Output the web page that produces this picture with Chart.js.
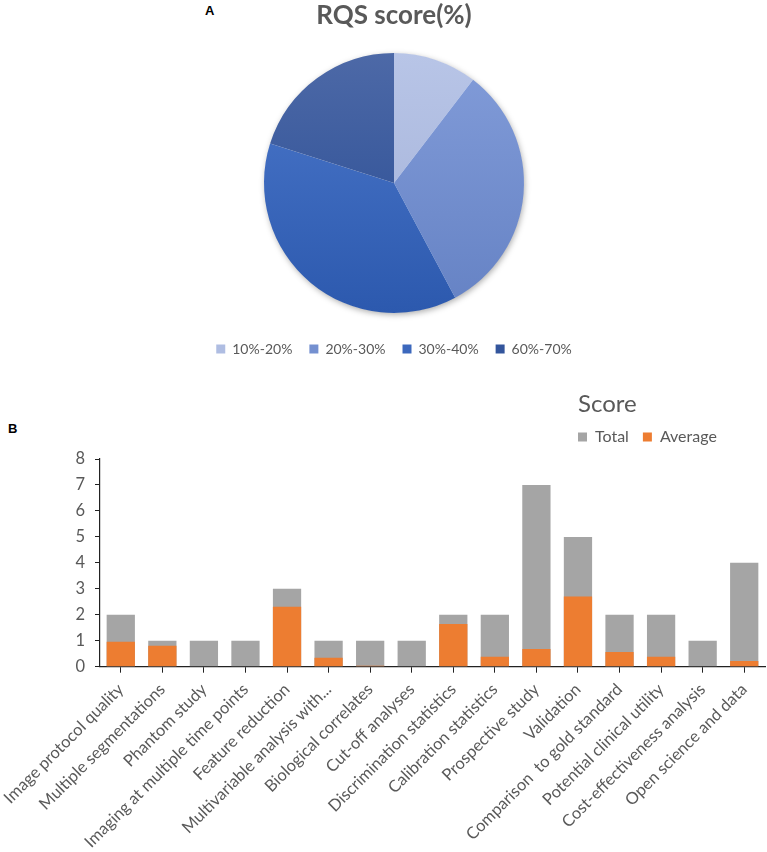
<!DOCTYPE html>
<html>
<head>
<meta charset="utf-8">
<script src="https://cdn.jsdelivr.net/npm/chart.js@4"></script>
<style>
  html, body { margin: 0; padding: 0; background: #fff; }
  body { width: 767px; height: 852px; position: relative; overflow: hidden; }
  .panel { position: absolute; font-family: "Liberation Sans", Arial, sans-serif; font-weight: bold; font-size: 13px; line-height: 13px; color: #000; }
  #wrapA { position: absolute; left: 0; top: 0; width: 767px; height: 366px; }
  #wrapB { position: absolute; left: 0; top: 388px; width: 767px; height: 464px; }
</style>
</head>
<body>
<div class="panel" style="left:205px; top:4px;">A</div>
<div class="panel" style="left:8px; top:422px;">B</div>
<div id="wrapA"><canvas id="pie" width="767" height="366"></canvas></div>
<div id="wrapB"><canvas id="bar" width="767" height="464"></canvas></div>
<script>
// ---- data ----
const pieTitle = 'RQS score(%)';
const pieLabels = ['10%-20%', '20%-30%', '30%-40%', '60%-70%'];
const pieValues = [10.4, 31.8, 37.7, 20.1];
const pieColors = ['#afbde2', '#7490d0', '#3c68bd', '#33559c'];
const pieTopColors = ['#b8c5e7', '#829cd9', '#4c78cb', '#4d69a7'];
const pieBottomColors = ['#a2b0d7', '#6582c4', '#2c59ae', '#264a92'];

const categories = [
  'Image protocol quality',
  'Multiple segmentations',
  'Phantom study',
  'Imaging at multiple time points',
  'Feature reduction',
  'Multivariable analysis with...',
  'Biological correlates',
  'Cut-off analyses',
  'Discrimination statistics',
  'Calibration statistics',
  'Prospective study',
  'Validation',
  'Comparison  to gold standard',
  'Potential clinical utility',
  'Cost-effectiveness analysis',
  'Open science and data'
];
const totalScores   = [2, 1, 1, 1, 3, 1, 1, 1, 2, 2, 7, 5, 2, 2, 1, 4];
const averageScores = [0.96, 0.81, 0, 0, 2.31, 0.34, 0.04, 0, 1.64, 0.38, 0.68, 2.70, 0.57, 0.38, 0, 0.22];
const yMin = 0, yMax = 8, yStep = 1;

Chart.defaults.font.family = 'Lato, "Open Sans", sans-serif';
Chart.defaults.color = '#595959';
Chart.defaults.animation = false;

// ---- pie ----
const pieShadow = {
  id: 'pieShadow',
  beforeDatasetsDraw(chart) {
    const arc = chart.getDatasetMeta(0).data[0];
    if (!arc) return;
    const ctx = chart.ctx;
    ctx.save();
    ctx.shadowColor = 'rgba(0,0,0,0.35)';
    ctx.shadowBlur = 6;
    ctx.shadowOffsetX = 1;
    ctx.shadowOffsetY = 2;
    ctx.fillStyle = '#ffffff';
    ctx.beginPath();
    ctx.arc(arc.x, arc.y, arc.outerRadius - 0.5, 0, Math.PI * 2);
    ctx.fill();
    ctx.restore();
  }
};

function sliceFill(context) {
  const chart = context.chart;
  const area = chart.chartArea;
  const i = context.dataIndex;
  if (!area) return pieColors[i];
  const cy = (area.top + area.bottom) / 2;
  const g = chart.ctx.createLinearGradient(0, cy - 130, 0, cy + 130);
  g.addColorStop(0, pieTopColors[i]);
  g.addColorStop(1, pieBottomColors[i]);
  return g;
}

new Chart(document.getElementById('pie'), {
  type: 'pie',
  data: {
    labels: pieLabels,
    datasets: [{ data: pieValues, backgroundColor: sliceFill, borderWidth: 0, radius: 130 }]
  },
  options: {
    responsive: false,
    layout: { padding: { left: 21, right: 0, top: 0, bottom: 0 } },
    plugins: {
      title: {
        display: true, text: pieTitle, color: '#595959',
        font: { size: 26, weight: 'bold' },
        padding: { top: 0, bottom: 9.8 }
      },
      legend: {
        position: 'bottom',
        labels: {
          boxWidth: 9, boxHeight: 9, padding: 17, font: { size: 14 }, color: '#595959',
          generateLabels(chart) {
            return pieLabels.map((t, i) => ({
              text: t, fillStyle: pieColors[i], strokeStyle: pieColors[i], lineWidth: 0,
              hidden: false, index: i, fontColor: '#595959'
            }));
          }
        }
      },
      tooltip: { enabled: false }
    }
  },
  plugins: [pieShadow]
});

// ---- bar ----
const legendPlace = {
  id: 'legendPlace',
  afterLayout(chart) {
    const lg = chart.legend;
    if (!lg) return;
    const lw = Math.max(...lg.lineWidths);
    const dx = lg.right - (578 + lw);
    lg.left -= dx; lg.right -= dx;
    lg.top -= 4; lg.bottom -= 4;
  }
};

new Chart(document.getElementById('bar'), {
  type: 'bar',
  data: {
    labels: categories,
    datasets: [
      { label: 'Total', data: totalScores, backgroundColor: '#a5a5a5', order: 1 },
      { label: 'Average', data: averageScores, backgroundColor: '#ed7d31', order: 0 }
    ]
  },
  options: {
    responsive: false,
    layout: { padding: { left: 0, right: 2, top: 8.6, bottom: 0 } },
    datasets: { bar: { grouped: false, categoryPercentage: 1, barPercentage: 0.68 } },
    scales: {
      x: {
        offset: true,
        grid: { offset: false, drawOnChartArea: false, drawTicks: true, tickLength: 6, color: '#222' },
        border: { color: '#222', width: 1.2 },
        ticks: { autoSkip: false, minRotation: 45, maxRotation: 45, padding: 7, font: { size: 16.5 }, color: '#595959' },
        afterFit(s) { s.height = 185.3; s.paddingLeft = 0; s.paddingRight = 0; }
      },
      y: {
        min: yMin, max: yMax,
        grid: { drawOnChartArea: false, drawTicks: true, tickLength: 5, color: '#222' },
        border: { color: '#222', width: 1.2 },
        ticks: { stepSize: yStep, padding: 10, font: { size: 16.5 }, color: '#595959' },
        afterFit(s) { s.width = 100; }
      }
    },
    plugins: {
      legend: {
        position: 'top', align: 'end',
        title: { display: true, text: 'Score', position: 'start', color: '#595959', font: { size: 24 }, padding: { top: 0, bottom: -6.4 } },
        labels: {
          boxWidth: 9, boxHeight: 9, padding: 14, font: { size: 16 }, color: '#595959',
          sort: (a, b) => a.datasetIndex - b.datasetIndex
        }
      },
      tooltip: { enabled: false }
    }
  },
  plugins: [legendPlace]
});
</script>
</body>
</html>
